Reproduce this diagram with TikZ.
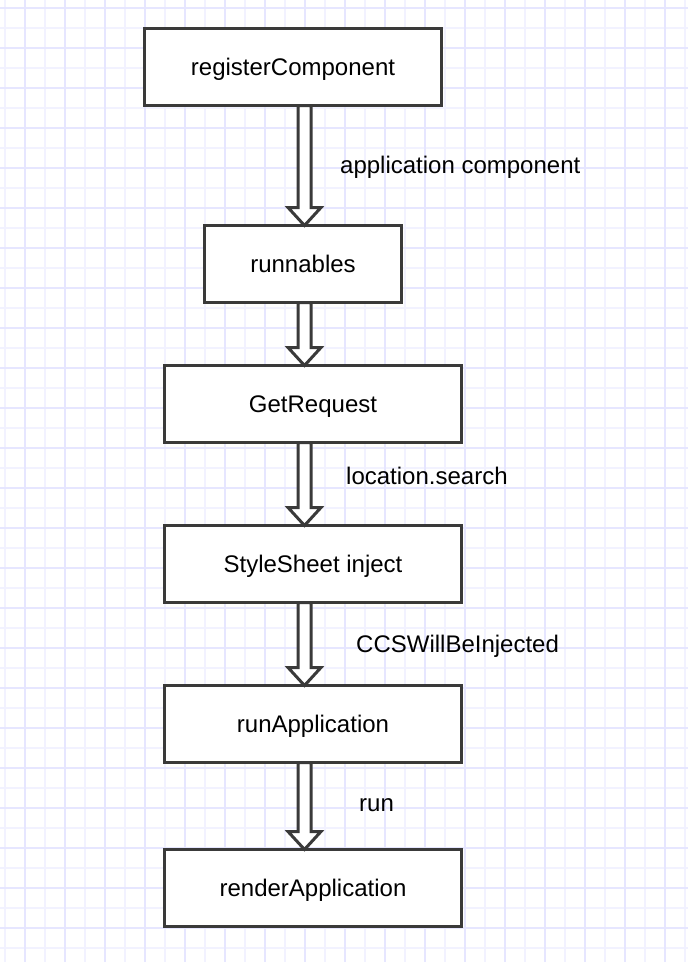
\documentclass[tikz,border=0pt]{standalone}
\usepackage{fontspec}
\setmainfont{Liberation Sans}
\usepackage{tikz}
\usetikzlibrary{calc}
\definecolor{gridthin}{HTML}{F2F2FF}
\definecolor{gridthick}{HTML}{E6E6FF}
\definecolor{boxline}{HTML}{3A3A3A}
\newcommand{\flowarrow}[2]{%
\draw[line width=3pt, boxline, fill=white, miter limit=10] let \p1=(#1.south -| axis), \p2=(#2.north -| axis) in (\x1-6.5pt,\y1) -- (\x1-6.5pt,\y2+18pt) -- (\x1-16.5pt,\y2+18pt) -- (\x2,\y2) -- (\x1+16.5pt,\y2+18pt) -- (\x1+6.5pt,\y2+18pt) -- (\x1+6.5pt,\y1) -- cycle;%
}
\tikzset{
	stepbox/.style={draw=boxline,
		line width=3pt,
		fill=white,
		outer sep=0pt,
		inner sep=0pt,
		minimum height=77pt,
		text height=17.2pt,
		text depth=0pt,
		font=\fontsize{24}{28}\selectfont},
	flowlabel/.style={anchor=base west,
		inner sep=0pt,
		font=\fontsize{24}{28}\selectfont}
}

\begin{document}
\begin{tikzpicture}[x=1pt,y=1pt]

\fill[white] (0,0) rectangle (688,-962);
\useasboundingbox (0,0) rectangle (688,-962);

% grid
\foreach \gx in {5,25,...,685}
	\draw[gridthin, line width=1.5pt] (\gx,0) -- (\gx,-962);
\foreach \gy in {-8,-28,...,-948}
	\draw[gridthin, line width=1.5pt] (0,\gy) -- (688,\gy);
\foreach \gx in {25,65,...,665}
	\draw[gridthick, line width=1.5pt] (\gx,0) -- (\gx,-962);
\foreach \gy in {-8,-48,...,-928}
	\draw[gridthick, line width=1.5pt] (0,\gy) -- (688,\gy);

\coordinate (axis) at (304.5,0);

% registerComponent
\node [stepbox,
	minimum width=297pt
] (register) at (293,-67) {registerComponent};

% runnables
\node [stepbox,
	minimum width=197pt
] (runnables) at (303,-264) {runnables};

% GetRequest
\node [stepbox,
	minimum width=297pt
] (request) at (313,-404) {GetRequest};

% StyleSheet inject
\node [stepbox,
	minimum width=297pt
] (stylesheet) at (313,-564) {StyleSheet inject};

% runApplication
\node [stepbox,
	minimum width=297pt
] (runapp) at (313,-724) {runApplication};

% renderApplication
\node [stepbox,
	minimum width=297pt
] (renderapp) at (313,-888) {renderApplication};

% Arrows
\flowarrow{register}{runnables}
\flowarrow{runnables}{request}
\flowarrow{request}{stylesheet}
\flowarrow{stylesheet}{runapp}
\flowarrow{runapp}{renderapp}

% Labels
\node [flowlabel] (lblcomponent) at (340,-173) {application component};
\node [flowlabel] (lblsearch) at (346,-484) {location.search};
\node [flowlabel] (lblinjected) at (356,-652) {CCSWillBeInjected};
\node [flowlabel] (lblrun) at (359,-811) {run};

\end{tikzpicture}
\end{document}
